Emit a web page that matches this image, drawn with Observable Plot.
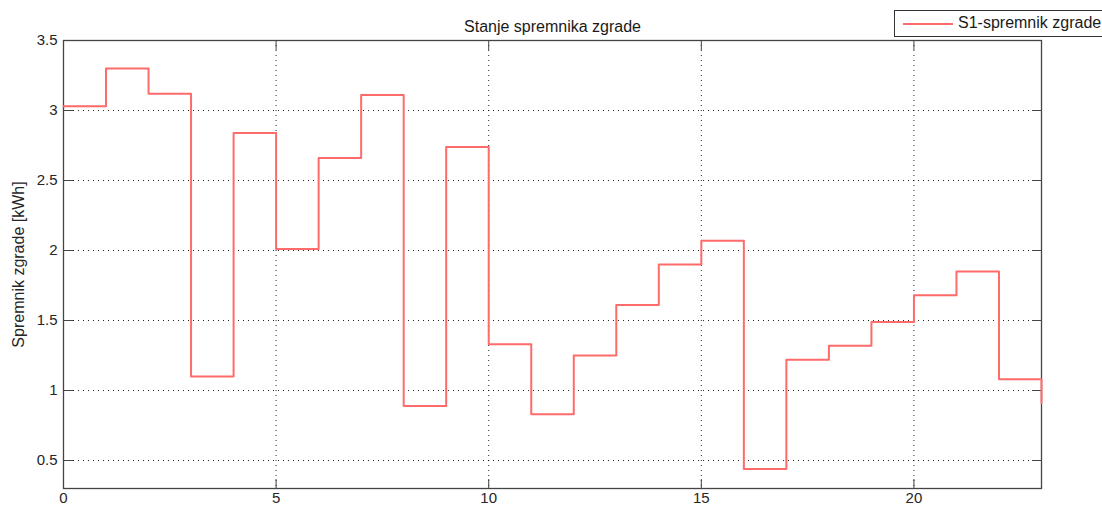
<!DOCTYPE html>
<html>
<head>
<meta charset="utf-8">
<script src="https://cdn.jsdelivr.net/npm/d3@7"></script>
<script src="https://cdn.jsdelivr.net/npm/@observablehq/plot@0.6"></script>
<style>
  html, body { margin: 0; padding: 0; background: #fff; }
  #wrap { position: relative; width: 1102px; height: 509px; overflow: hidden; font-family: "Liberation Sans", Arial, sans-serif; }
  #legend { position: absolute; left: 894px; top: 10px; width: 220px; height: 27px; border: 1px solid #333; background: #fff; box-sizing: border-box; }
  #legend .swatch { position: absolute; left: 8px; top: 12px; width: 50px; height: 2px; background: #ff6a6a; }
  #legend .lbl { position: absolute; left: 63px; top: 3px; font-size: 16px; color: #1a1a1a; white-space: nowrap; }
</style>
</head>
<body>
<div id="wrap"></div>
<script>
const title = "Stanje spremnika zgrade";
const yLabel = "Spremnik zgrade [kWh]";
const seriesName = "S1-spremnik zgrade";
const hours = [0,1,2,3,4,5,6,7,8,9,10,11,12,13,14,15,16,17,18,19,20,21,22,23];
const storage = [3.03,3.30,3.12,1.10,2.84,2.01,2.66,3.11,0.89,2.74,1.33,0.83,1.25,1.61,1.90,2.07,0.44,1.22,1.32,1.49,1.68,1.85,1.08,0.91];
const xTicks = [0,5,10,15,20];
const yTicks = [0.5,1,1.5,2,2.5,3,3.5];
const xDomain = [0,23];
const yDomain = [0.3,3.5];

const data = hours.map((h, i) => ({hour: h, value: storage[i]}));
const lineColor = "#ff6a6a";
const axisColor = "#444";
const textColor = "#262626";

const chart = Plot.plot({
  width: 1102,
  height: 509,
  marginTop: 40,
  marginRight: 61,
  marginBottom: 21,
  marginLeft: 63,
  style: {fontFamily: "'Liberation Sans', Arial, sans-serif", fontSize: "15px", color: textColor, background: "#fff"},
  x: {domain: xDomain},
  y: {domain: yDomain},
  marks: [
    Plot.gridX(xTicks, {stroke: "#000", strokeOpacity: 0.85, strokeDasharray: "1,4"}),
    Plot.gridY(yTicks, {stroke: "#000", strokeOpacity: 0.85, strokeDasharray: "1,4"}),
    Plot.axisX(xTicks, {anchor: "bottom", tickSize: 0, tickPadding: 4, label: null, fill: textColor, tickFormat: d => String(d)}),
    Plot.axisX(xTicks, {anchor: "bottom", tickSize: -9, text: null, label: null, stroke: axisColor}),
    Plot.axisX(xTicks, {anchor: "top", tickSize: -9, text: null, label: null, stroke: axisColor}),
    Plot.axisY(yTicks, {anchor: "left", tickSize: 0, tickPadding: 6, label: null, fill: textColor, tickFormat: d => String(d)}),
    Plot.text([yLabel], {frameAnchor: "left", dx: -51, rotate: -90, lineAnchor: "top", textAnchor: "middle", fontSize: 16, fill: textColor}),
    Plot.axisY(yTicks, {anchor: "left", tickSize: -10, text: null, label: null, stroke: axisColor}),
    Plot.axisY(yTicks, {anchor: "right", tickSize: -10, text: null, label: null, stroke: axisColor}),
    Plot.frame({stroke: axisColor, strokeWidth: 1.3}),
    Plot.line(data, {x: "hour", y: "value", curve: "step-after", stroke: lineColor, strokeWidth: 2}),
    Plot.text([title], {frameAnchor: "top", dy: -20, fontSize: 16, fill: "#1a1a1a"})
  ]
});

const wrap = document.getElementById("wrap");
wrap.appendChild(chart);
const legend = document.createElement("div");
legend.id = "legend";
legend.innerHTML = `<div class="swatch"></div><div class="lbl"></div>`;
legend.querySelector(".lbl").textContent = seriesName;
wrap.appendChild(legend);
</script>
</body>
</html>
